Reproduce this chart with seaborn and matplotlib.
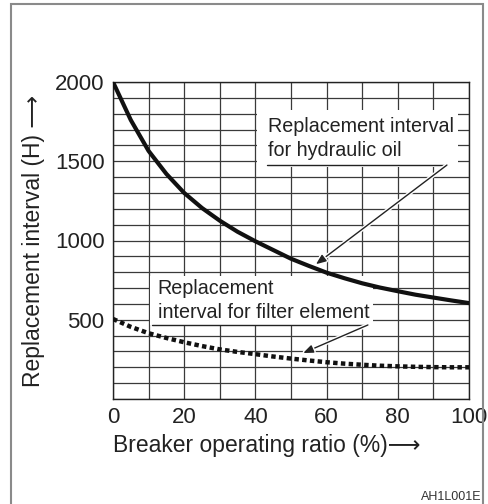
import seaborn as sns
import matplotlib.pyplot as plt
import matplotlib.patheffects as pe
from matplotlib.patches import Rectangle
import pandas as pd

# Ausgelesene Werte aus der Vorlage
ratio = [0, 5, 10, 15, 20, 25, 30, 35, 40, 45, 50,
         55, 60, 65, 70, 75, 80, 85, 90, 95, 100]
hydraulic_oil = [2000, 1760, 1565, 1420, 1300, 1205, 1125, 1055, 995, 940, 885,
                 840, 797, 762, 730, 703, 680, 658, 640, 622, 605]
filter_element = [505, 455, 415, 385, 358, 334, 313, 297, 283, 268, 255,
                  243, 232, 223, 216, 210, 206, 203, 201, 200, 200]

x_ticks = [0, 20, 40, 60, 80, 100]
y_ticks = [500, 1000, 1500, 2000]

df = pd.DataFrame({'ratio': ratio, 'oil': hydraulic_oil, 'filter': filter_element})

sns.set_style('white')
plt.rcParams['font.family'] = ['Liberation Sans', 'DejaVu Sans']
ink = '#222222'

fig = plt.figure(figsize=(4.88, 5.04), dpi=100)
ax = fig.add_axes([113 / 488, 1 - 399 / 504, 356 / 488, 317 / 504])

sns.lineplot(data=df, x='ratio', y='oil', ax=ax, color='#111111', lw=3.0, zorder=5)
sns.lineplot(data=df, x='ratio', y='filter', ax=ax, color='#111111', lw=3.2,
             ls=(0, (1, 0.75)), zorder=5)
ax.lines[1].set_dash_capstyle('butt')

ax.set_xlim(0, 100)
ax.set_ylim(0, 2000)
ax.set_xticks(x_ticks)
ax.set_yticks(y_ticks)
ax.set_xticks(range(0, 101, 10), minor=True)
ax.set_yticks(range(0, 2001, 100), minor=True)
ax.grid(True, which='both', color='#3a3a3a', lw=0.9, zorder=1)
ax.set_axisbelow(True)
ax.tick_params(which='both', length=0, labelsize=16, colors=ink, pad=6)
for s in ax.spines.values():
    s.set_color('#222222')
    s.set_linewidth(1.0)

ax.set_xlabel('Breaker operating ratio (%)\u27f6', fontsize=16.5, color=ink,
              loc='left', labelpad=4)
ax.set_ylabel('Replacement interval (H) \u27f6', fontsize=16.5, color=ink, labelpad=7)

# weisse Hintergrundflaechen fuer die Beschriftungen
ax.add_patch(Rectangle((40.4, 1464), 56.5, 359, fc='white', ec='none', zorder=3))
ax.add_patch(Rectangle((10.4, 467), 62.6, 309, fc='white', ec='none', zorder=3))

ax.text(43.5, 1782, 'Replacement interval\nfor hydraulic oil', fontsize=14.2, color=ink,
        va='top', ha='left', linespacing=1.35, zorder=6)
ax.text(12.6, 760, 'Replacement\ninterval for filter element', fontsize=14.2, color=ink,
        va='top', ha='left', linespacing=1.35, zorder=6)

ax.plot([43.3, 93.8], [1476, 1476], color=ink, lw=1.0, zorder=6)
ax.plot([11, 71.6], [467, 467], color=ink, lw=1.0, zorder=6)

halo = [pe.withStroke(linewidth=3, foreground='white')]
ax.annotate('', xy=(57, 850), xytext=(93.8, 1476), zorder=7,
            arrowprops=dict(arrowstyle='-|>,head_length=0.5,head_width=0.2', color=ink,
                            lw=1.0, mutation_scale=12,
                            shrinkA=0, shrinkB=0, path_effects=halo))
ax.annotate('', xy=(53.4, 290), xytext=(71.6, 467), zorder=7,
            arrowprops=dict(arrowstyle='-|>,head_length=0.5,head_width=0.2', color=ink,
                            lw=1.0, mutation_scale=12,
                            shrinkA=0, shrinkB=0, path_effects=halo))

# Rahmen um die Abbildung
fig.add_artist(Rectangle((11 / 488, -0.1), 472 / 488, 1.1 - 4 / 504,
                         transform=fig.transFigure, fill=False, ec='#8a8a8a', lw=1.5))
fig.text(481 / 488, 1 - 497 / 504, 'AH1L001E', fontsize=9, color='#333333',
         ha='right', va='center')

fig.savefig('out.png', dpi=100)
